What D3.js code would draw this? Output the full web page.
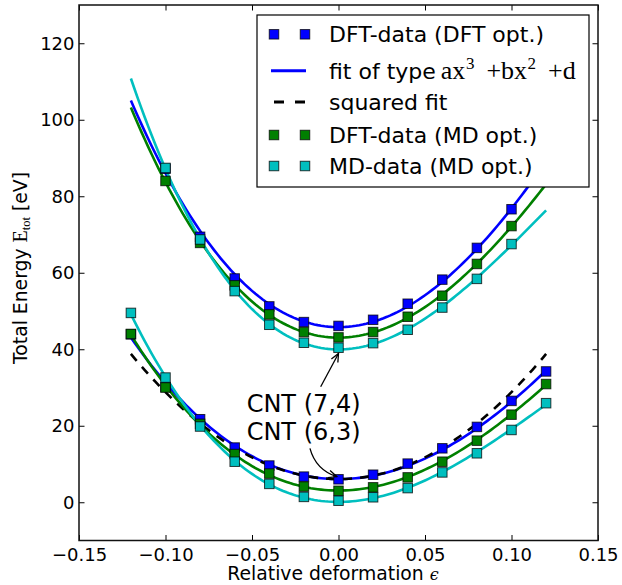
<!DOCTYPE html>
<html><head><meta charset="utf-8">
<script src="https://cdn.jsdelivr.net/npm/d3@7"></script>
<style>body{margin:0;background:#fff}svg{display:block}text{font-family:"DejaVu Sans",sans-serif}</style>
</head><body><svg id="c" width="622" height="585"></svg>
<script>
// ---- data ----
const strain63 = [-0.12,-0.10,-0.08,-0.06,-0.04,-0.02,0.00,0.02,0.04,0.06,0.08,0.10,0.12];
const dftDft63 = [43.9,30.1,21.7,14.3,9.6,6.7,6.0,7.2,10.1,14.1,19.7,26.5,34.2];
const dftMd63  = [44.0,30.0,20.5,12.6,7.5,4.1,3.0,3.9,6.5,10.6,16.1,22.9,30.9];
const mdMd63   = [49.5,32.6,19.8,10.6,4.8,1.4,0.4,1.3,3.7,7.8,12.8,18.9,25.9];

const strain74 = [-0.10,-0.08,-0.06,-0.04,-0.02,0.00,0.02,0.04,0.06,0.08,0.10];
const dftDft74 = [87.2,69.4,58.5,51.2,47.1,46.1,47.7,51.9,58.2,66.5,76.6];
const dftMd74  = [84.0,67.8,56.7,49.1,44.5,43.1,44.5,48.5,54.0,62.3,72.2];
const mdMd74   = [87.4,68.7,55.2,46.4,41.7,40.4,41.6,45.1,50.9,58.4,67.5];

const fitDomain = [-0.12, 0.12];
const xTicks = [-0.15,-0.10,-0.05,0.00,0.05,0.10,0.15];
const yTicks = [0,20,40,60,80,100,120];
const legendLabels = ["DFT-data (DFT opt.)","fit of type","squared fit","DFT-data (MD opt.)","MD-data (MD opt.)"];
const annoLabels = ["CNT (7,4)","CNT (6,3)"];

// ---- layout ----
const L=79, R=598, T=5, B=540.5;
const BLUE="#0000ff", GREEN="#008000", CYAN="#00bfbf";
const svg = d3.select("#c");
const x = d3.scaleLinear().domain([-0.15,0.15]).range([L,R]);
const y = d3.scaleLinear().domain([-10,130]).range([B,T]);

// least squares fit with given basis functions
function lsq(xs, ys, basis){
  const n=basis.length;
  const A=[...Array(n)].map(()=>Array(n+1).fill(0));
  xs.forEach((xv,k)=>{
    const phi=basis.map(f=>f(xv));
    for(let i=0;i<n;i++){ for(let j=0;j<n;j++) A[i][j]+=phi[i]*phi[j]; A[i][n]+=phi[i]*ys[k]; }
  });
  for(let i=0;i<n;i++){
    let p=i; for(let r=i+1;r<n;r++) if(Math.abs(A[r][i])>Math.abs(A[p][i])) p=r;
    [A[i],A[p]]=[A[p],A[i]];
    for(let r=0;r<n;r++){ if(r===i) continue; const f=A[r][i]/A[i][i]; for(let c=i;c<=n;c++) A[r][c]-=f*A[i][c]; }
  }
  const coef=A.map((row,i)=>row[n]/row[i]);
  return xv=>basis.reduce((s,f,i)=>s+coef[i]*f(xv),0);
}
const cubicBasis=[v=>v*v*v, v=>v*v, v=>1];
const squareBasis=[v=>v*v, v=>1];
const samples=d3.range(0,121).map(i=>fitDomain[0]+(fitDomain[1]-fitDomain[0])*i/120);
const line=d3.line().x(d=>x(d[0])).y(d=>y(d[1]));
function drawFit(xs,ys,basis,color,dash){
  const f=lsq(xs,ys,basis);
  svg.append("path").attr("d",line(samples.map(s=>[s,f(s)])))
    .attr("fill","none").attr("stroke",color).attr("stroke-width",2.6)
    .attr("stroke-dasharray",dash||null);
}
drawFit(strain74,dftDft74,cubicBasis,BLUE);
drawFit(strain63,dftDft63,cubicBasis,BLUE);
drawFit(strain63,dftDft63,squareBasis,"#000","9,8");
drawFit(strain74,dftMd74,cubicBasis,GREEN);
drawFit(strain63,dftMd63,cubicBasis,GREEN);
drawFit(strain74,mdMd74,cubicBasis,CYAN);
drawFit(strain63,mdMd63,cubicBasis,CYAN);

const MS=9.5;
function drawPts(xs,ys,color){
  svg.append("g").selectAll("rect").data(xs.map((v,i)=>[v,ys[i]])).join("rect")
    .attr("x",d=>x(d[0])-MS/2).attr("y",d=>y(d[1])-MS/2)
    .attr("width",MS).attr("height",MS).attr("fill",color)
    .attr("stroke","#000").attr("stroke-opacity",0.75).attr("stroke-width",1);
}
drawPts(strain74,dftDft74,BLUE); drawPts(strain63,dftDft63,BLUE);
drawPts(strain74,dftMd74,GREEN); drawPts(strain63,dftMd63,GREEN);
drawPts(strain74,mdMd74,CYAN); drawPts(strain63,mdMd63,CYAN);

// ---- axes ----
const fs=18;
const xAx=svg.append("g").attr("transform",`translate(0,${B})`)
  .call(d3.axisBottom(x).tickValues(xTicks).tickFormat(d3.format(".2f")).tickSizeInner(-5.5).tickSizeOuter(0).tickPadding(7.5));
const xTop=svg.append("g").attr("transform",`translate(0,${T})`)
  .call(d3.axisTop(x).tickValues(xTicks).tickFormat("").tickSizeInner(-5.5).tickSizeOuter(0));
const yAx=svg.append("g").attr("transform",`translate(${L},0)`)
  .call(d3.axisLeft(y).tickValues(yTicks).tickFormat(d3.format("d")).tickSizeInner(-5.5).tickSizeOuter(0).tickPadding(4.5));
const yR=svg.append("g").attr("transform",`translate(${R},0)`)
  .call(d3.axisRight(y).tickValues(yTicks).tickFormat("").tickSizeInner(-5.5).tickSizeOuter(0));
[xAx,xTop,yAx,yR].forEach(g=>{
  g.select(".domain").remove();
  g.selectAll(".tick line").attr("stroke","#000").attr("stroke-width",1);
  g.selectAll(".tick text").attr("fill","#000").style("font-size",fs+"px").style("font-family","DejaVu Sans");
});
svg.append("rect").attr("x",L).attr("y",T).attr("width",R-L).attr("height",B-T)
  .attr("fill","none").attr("stroke","#111").attr("stroke-width",1.5);

// axis labels
const lfsAx=18.8;
const xl=svg.append("text").attr("x",333).attr("y",580).attr("text-anchor","middle").style("font-size",lfsAx+"px");
xl.append("tspan").text("Relative deformation ");
xl.append("tspan").text("\u03F5").style("font-family","DejaVu Serif").style("font-style","italic").style("font-size","16px");

const yl=svg.append("text").attr("transform",`translate(26.7,268) rotate(-90)`).attr("text-anchor","middle").style("font-size",lfsAx+"px");
yl.append("tspan").text("Total Energy ");
yl.append("tspan").text("E").style("font-family","Liberation Serif").style("font-size","20px");
yl.append("tspan").text("tot").attr("dy",3).style("font-family","Liberation Serif").style("font-size","12.5px");
yl.append("tspan").text(" [eV]").attr("dy",-3);

// ---- annotations ----
const annos=[
  {label:annoLabels[0], tx:-0.0531, ty:23.67, from:[-0.0103,30.2], to:[0.0,38.9], rad:0.0},
  {label:annoLabels[1], tx:-0.0531, ty:16.27, from:[-0.0165,14.1], to:[-0.0010,6.7], rad:0.27}
];
annos.forEach(a=>{
  svg.append("text").attr("x",x(a.tx)).attr("y",y(a.ty)).style("font-size","24px").attr("fill","#000").text(a.label);
  const p0=[x(a.from[0]),y(a.from[1])], p2=[x(a.to[0]),y(a.to[1])];
  const dx=p2[0]-p0[0], dy=p2[1]-p0[1];
  const c=[(p0[0]+p2[0])/2 - a.rad*dy, (p0[1]+p2[1])/2 + a.rad*dx];
  svg.append("path").attr("d",`M${p0[0]},${p0[1]} Q${c[0]},${c[1]} ${p2[0]},${p2[1]}`)
    .attr("fill","none").attr("stroke","#000").attr("stroke-width",1.3);
  const ang=Math.atan2(p2[1]-c[1],p2[0]-c[0]), hl=9, hw=0.42;
  const a1=[p2[0]-hl*Math.cos(ang-hw), p2[1]-hl*Math.sin(ang-hw)];
  const a2=[p2[0]-hl*Math.cos(ang+hw), p2[1]-hl*Math.sin(ang+hw)];
  svg.append("path").attr("d",`M${a1[0]},${a1[1]} L${p2[0]},${p2[1]} L${a2[0]},${a2[1]}`)
    .attr("fill","none").attr("stroke","#000").attr("stroke-width",1.3);
});

// ---- legend ----
const lg=svg.append("g");
lg.append("rect").attr("x",257).attr("y",15).attr("width",332).attr("height",172)
  .attr("fill","#fff").attr("stroke","#000").attr("stroke-width",1.2);
const rowsY=[34.3,70.7,102,135,166];
const lfs=22;
const rowKinds=[{t:"pts",c:BLUE},{t:"line",c:BLUE},{t:"dash",c:"#000"},{t:"pts",c:GREEN},{t:"pts",c:CYAN}];
rowKinds.forEach((k,i)=>{
  const cy=rowsY[i];
  if(k.t==="pts"){
    [274,305].forEach(cx=>lg.append("rect").attr("x",cx-MS/2).attr("y",cy-MS/2).attr("width",MS).attr("height",MS)
      .attr("fill",k.c).attr("stroke","#000").attr("stroke-opacity",0.75));
  } else if(k.t==="line"){
    lg.append("line").attr("x1",271).attr("x2",306).attr("y1",cy).attr("y2",cy).attr("stroke",k.c).attr("stroke-width",3);
  } else {
    lg.append("line").attr("x1",274).attr("x2",306).attr("y1",cy).attr("y2",cy).attr("stroke",k.c).attr("stroke-width",3).attr("stroke-dasharray","10,11");
  }
  const t=lg.append("text").attr("x",329).attr("y",cy+8).style("font-size",lfs+"px").attr("fill","#000");
  t.append("tspan").text(legendLabels[i]);
  if(i===1){
    const m=(txt,size,dy,dx)=>{const s=t.append("tspan").text(txt).style("font-family","Liberation Serif").style("font-size",size+"px");
      if(dy) s.attr("dy",dy); if(dx) s.attr("dx",dx); return s;};
    m("ax",26,0,5);
    m("3",17,-10,0.5);
    m("+bx",26,10,12);
    m("2",17,-10,0.5);
    m("+d",26,10,12);
  }
});
</script></body></html>
